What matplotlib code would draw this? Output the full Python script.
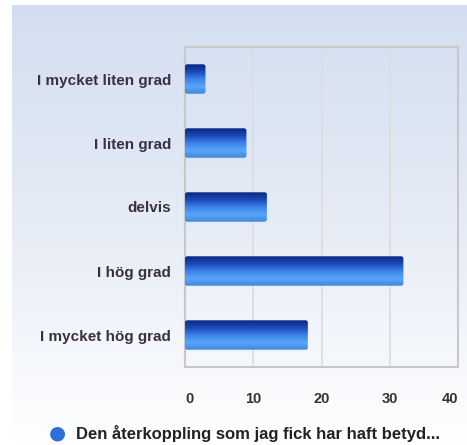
import numpy as np
import matplotlib.pyplot as plt
from matplotlib.colors import LinearSegmentedColormap
from matplotlib.patches import FancyBboxPatch

categories = ['I mycket liten grad', 'I liten grad', 'delvis', 'I hög grad', 'I mycket hög grad']
values = [3, 9, 12, 32, 18]
xticks = [0, 10, 20, 30, 40]
legend_label = 'Den återkoppling som jag fick har haft betyd...'

plt.rcParams['font.family'] = ['Liberation Sans', 'DejaVu Sans']

W, H = 467, 445
fig = plt.figure(figsize=(W / 100, H / 100), dpi=100)
fig.patch.set_facecolor('white')

# bakgrund med gradient
bg = fig.add_axes([12 / W, 0, 1 - 12 / W, 1 - 5 / H], zorder=0)
bg_cmap = LinearSegmentedColormap.from_list('bg', ['#d2def0', '#e6ecf6', '#ffffff'])
bg.imshow(np.linspace(0, 1, 256).reshape(-1, 1), aspect='auto', cmap=bg_cmap,
          extent=[0, 1, 0, 1], origin='upper')
bg.axis('off')

ax = fig.add_axes([185 / W, 1 - 367 / H, (458 - 185) / W, (367 - 47) / H], zorder=1)
ax.patch.set_alpha(0)

y = np.arange(len(categories))
bars = ax.barh(y, values, height=0.46, color='none')
ax.set_xlim(0, 40)
ax.set_ylim(len(categories) - 0.5, -0.5)

bar_cmap = LinearSegmentedColormap.from_list(
    'bar', ['#0c2680', '#1a48b8', '#3a82e6', '#5aa6fa', '#3f86e0'])
grad = np.linspace(0, 1, 256).reshape(-1, 1)
for b in bars:
    x0, y0, w, h = b.get_x(), b.get_y(), b.get_width(), b.get_height()
    im = ax.imshow(grad, aspect='auto', cmap=bar_cmap, origin='upper',
                   extent=[x0, x0 + w, y0 + h, y0], zorder=3)
    clip = FancyBboxPatch((x0, y0), w, h, boxstyle='round,pad=0,rounding_size=0.35',
                          mutation_aspect=0.1, transform=ax.transData,
                          facecolor='none', edgecolor='none')
    ax.add_patch(clip)
    im.set_clip_path(clip)

ax.set_yticks(y)
ax.set_yticklabels(categories, fontsize=11, color='#3a3040', fontweight='bold')
ax.set_xticks(xticks)
xl = ax.set_xticklabels([str(t) for t in xticks], fontsize=10.5, color='#333333', fontweight='bold')
xl[0].set_ha('left')
xl[-1].set_ha('right')
ax.tick_params(axis='both', length=0)
ax.tick_params(axis='y', pad=10)
ax.tick_params(axis='x', pad=18)
ax.xaxis.grid(True, color='#dcdcdc', linewidth=1.2)
ax.set_axisbelow(True)
for s in ax.spines.values():
    s.set_color('#c8c8c8')
    s.set_linewidth(1.5)

# legend
fig.text(258 / W, 1 - 434 / H, legend_label, ha='center', va='center',
         fontsize=12, fontweight='bold', color='#222222')
fig.text(57 / W, 1 - 433 / H, '●', ha='center', va='center',
         fontsize=14, color='#2f6fd8', family=['DejaVu Sans'])

fig.savefig('out.png', dpi=100)
